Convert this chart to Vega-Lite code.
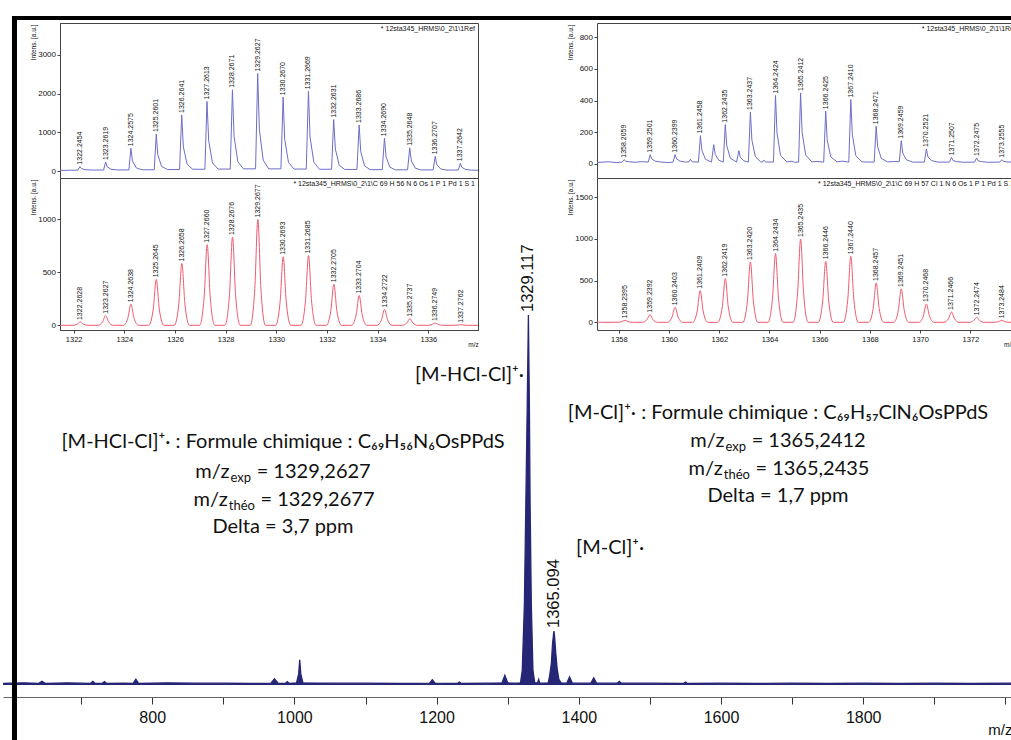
{
  "$schema": "https://vega.github.io/schema/vega-lite/v6.json",
  "background": "white",
  "padding": {"top": 13, "left": 0, "right": 0, "bottom": 0},
  "bounds": "flush",
  "spacing": 307,
  "config": {
    "view": {"stroke": null},
    "axis": {"grid": false, "labelFont": "Liberation Sans", "titleFont": "Liberation Sans", "domainColor": "#444", "tickColor": "#444", "labelColor": "#111", "titleColor": "#111", "titleFontWeight": "normal"},
    "title": {"font": "Liberation Sans", "fontWeight": "normal"}
  },
  "datasets": {
    "lt": [
      {"m":1321.46,"v":15},{"m":1321.9,"v":20},
      {"m":1322.17,"v":22},{"m":1322.245,"v":113},{"m":1322.31,"v":60},{"m":1322.45,"v":35},{"m":1322.7,"v":25},
      {"m":1323.18,"v":25},{"m":1323.262,"v":235},{"m":1323.32,"v":110},{"m":1323.47,"v":45},{"m":1323.7,"v":28},
      {"m":1324.18,"v":28},{"m":1324.258,"v":590},{"m":1324.32,"v":260},{"m":1324.47,"v":80},{"m":1324.7,"v":32},
      {"m":1325.18,"v":32},{"m":1325.26,"v":957},{"m":1325.32,"v":420},{"m":1325.47,"v":120},{"m":1325.7,"v":38},
      {"m":1326.18,"v":38},{"m":1326.264,"v":1450},{"m":1326.33,"v":620},{"m":1326.48,"v":170},{"m":1326.7,"v":45},
      {"m":1327.18,"v":45},{"m":1327.261,"v":1800},{"m":1327.33,"v":780},{"m":1327.48,"v":210},{"m":1327.7,"v":50},
      {"m":1328.18,"v":50},{"m":1328.267,"v":2100},{"m":1328.33,"v":900},{"m":1328.48,"v":240},{"m":1328.7,"v":55},
      {"m":1329.18,"v":55},{"m":1329.263,"v":2520},{"m":1329.33,"v":1080},{"m":1329.48,"v":280},{"m":1329.7,"v":55},
      {"m":1330.18,"v":55},{"m":1330.267,"v":1910},{"m":1330.33,"v":820},{"m":1330.48,"v":220},{"m":1330.7,"v":50},
      {"m":1331.18,"v":50},{"m":1331.267,"v":2060},{"m":1331.33,"v":880},{"m":1331.48,"v":230},{"m":1331.7,"v":45},
      {"m":1332.18,"v":45},{"m":1332.263,"v":1330},{"m":1332.33,"v":570},{"m":1332.48,"v":150},{"m":1332.7,"v":40},
      {"m":1333.18,"v":40},{"m":1333.269,"v":1190},{"m":1333.33,"v":510},{"m":1333.48,"v":135},{"m":1333.7,"v":35},
      {"m":1334.18,"v":35},{"m":1334.269,"v":850},{"m":1334.33,"v":370},{"m":1334.48,"v":100},{"m":1334.7,"v":30},
      {"m":1335.18,"v":30},{"m":1335.265,"v":600},{"m":1335.33,"v":260},{"m":1335.48,"v":75},{"m":1335.7,"v":28},
      {"m":1336.19,"v":28},{"m":1336.271,"v":380},{"m":1336.33,"v":170},{"m":1336.48,"v":55},{"m":1336.7,"v":25},
      {"m":1337.18,"v":25},{"m":1337.264,"v":200},{"m":1337.32,"v":95},{"m":1337.47,"v":40},{"m":1337.7,"v":22},
      {"m":1337.96,"v":20}
    ],
    "ltp": [
      {"m":1322.2454,"v":113},{"m":1323.2619,"v":235},{"m":1324.2575,"v":590},{"m":1325.2601,"v":957},
      {"m":1326.2641,"v":1450},{"m":1327.2613,"v":1800},{"m":1328.2671,"v":2100},{"m":1329.2627,"v":2520},
      {"m":1330.2670,"v":1910},{"m":1331.2669,"v":2060},{"m":1332.2631,"v":1330},{"m":1333.2686,"v":1190},
      {"m":1334.2690,"v":850},{"m":1335.2648,"v":600},{"m":1336.2707,"v":380},{"m":1337.2642,"v":200}
    ],
    "lb": [
      {"m":1321.46,"v":0},
      {"m":1321.96,"v":0},{"m":1322.14,"v":11},{"m":1322.26,"v":31},{"m":1322.38,"v":11},{"m":1322.56,"v":0},
      {"m":1322.96,"v":0},{"m":1323.14,"v":32},{"m":1323.26,"v":91},{"m":1323.38,"v":32},{"m":1323.56,"v":0},
      {"m":1323.96,"v":0},{"m":1324.14,"v":70},{"m":1324.26,"v":200},{"m":1324.38,"v":70},{"m":1324.56,"v":0},
      {"m":1324.96,"v":0},{"m":1325.14,"v":152},{"m":1325.26,"v":434},{"m":1325.38,"v":152},{"m":1325.56,"v":0},
      {"m":1325.97,"v":0},{"m":1326.15,"v":204},{"m":1326.27,"v":584},{"m":1326.39,"v":204},{"m":1326.57,"v":0},
      {"m":1326.97,"v":0},{"m":1327.15,"v":267},{"m":1327.27,"v":762},{"m":1327.39,"v":267},{"m":1327.57,"v":0},
      {"m":1327.97,"v":0},{"m":1328.15,"v":292},{"m":1328.27,"v":834},{"m":1328.39,"v":292},{"m":1328.57,"v":0},
      {"m":1328.97,"v":0},{"m":1329.15,"v":350},{"m":1329.27,"v":1000},{"m":1329.39,"v":350},{"m":1329.57,"v":0},
      {"m":1329.97,"v":0},{"m":1330.15,"v":226},{"m":1330.27,"v":647},{"m":1330.39,"v":226},{"m":1330.57,"v":0},
      {"m":1330.97,"v":0},{"m":1331.15,"v":231},{"m":1331.27,"v":659},{"m":1331.39,"v":231},{"m":1331.57,"v":0},
      {"m":1331.97,"v":0},{"m":1332.15,"v":136},{"m":1332.27,"v":388},{"m":1332.39,"v":136},{"m":1332.57,"v":0},
      {"m":1332.97,"v":0},{"m":1333.15,"v":98},{"m":1333.27,"v":281},{"m":1333.39,"v":98},{"m":1333.57,"v":0},
      {"m":1333.97,"v":0},{"m":1334.15,"v":52},{"m":1334.27,"v":150},{"m":1334.39,"v":52},{"m":1334.57,"v":0},
      {"m":1334.97,"v":0},{"m":1335.15,"v":22},{"m":1335.27,"v":62},{"m":1335.39,"v":22},{"m":1335.57,"v":0},
      {"m":1335.97,"v":0},{"m":1336.15,"v":8},{"m":1336.27,"v":22},{"m":1336.39,"v":8},{"m":1336.57,"v":0},
      {"m":1336.98,"v":0},{"m":1337.16,"v":2},{"m":1337.28,"v":6},{"m":1337.40,"v":2},{"m":1337.58,"v":0},
      {"m":1337.96,"v":0}
    ],
    "lbp": [
      {"m":1322.2628,"v":31},{"m":1323.2627,"v":91},{"m":1324.2638,"v":200},{"m":1325.2645,"v":434},
      {"m":1326.2658,"v":584},{"m":1327.2660,"v":762},{"m":1328.2676,"v":834},{"m":1329.2677,"v":1000},
      {"m":1330.2693,"v":647},{"m":1331.2685,"v":659},{"m":1332.2705,"v":388},{"m":1333.2704,"v":281},
      {"m":1334.2722,"v":150},{"m":1335.2737,"v":62},{"m":1336.2749,"v":22},{"m":1337.2762,"v":6}
    ],
    "rt": [
      {"m":1357.13,"v":10},{"m":1357.6,"v":14},{"m":1357.9,"v":9},
      {"m":1358.13,"v":12},{"m":1358.21,"v":27},{"m":1358.27,"v":18},{"m":1358.41,"v":14},{"m":1358.66,"v":11},
      {"m":1358.9,"v":15},
      {"m":1359.17,"v":12},{"m":1359.25,"v":59},{"m":1359.31,"v":32},{"m":1359.45,"v":18},{"m":1359.7,"v":12},
      {"m":1359.95,"v":9},
      {"m":1360.16,"v":12},{"m":1360.24,"v":59},{"m":1360.30,"v":32},{"m":1360.44,"v":18},{"m":1360.65,"v":12},
      {"m":1360.8,"v":14},{"m":1360.85,"v":30},{"m":1360.92,"v":14},
      {"m":1361.17,"v":12},{"m":1361.25,"v":179},{"m":1361.31,"v":85},{"m":1361.45,"v":30},{"m":1361.69,"v":12},
      {"m":1361.78,"v":122},{"m":1361.84,"v":60},{"m":1361.98,"v":24},{"m":1362.16,"v":12},
      {"m":1362.24,"v":248},{"m":1362.30,"v":115},{"m":1362.44,"v":37},{"m":1362.69,"v":12},
      {"m":1362.78,"v":84},{"m":1362.84,"v":42},{"m":1362.98,"v":20},{"m":1363.16,"v":12},
      {"m":1363.24,"v":328},{"m":1363.30,"v":150},{"m":1363.44,"v":45},{"m":1363.65,"v":14},
      {"m":1363.72,"v":12},{"m":1363.77,"v":25},{"m":1363.84,"v":13},{"m":1364.16,"v":12},
      {"m":1364.24,"v":432},{"m":1364.30,"v":195},{"m":1364.44,"v":55},{"m":1364.69,"v":13},
      {"m":1364.9,"v":18},{"m":1365.0,"v":11},{"m":1365.16,"v":12},
      {"m":1365.24,"v":448},{"m":1365.30,"v":200},{"m":1365.44,"v":57},{"m":1365.69,"v":13},
      {"m":1365.9,"v":16},{"m":1366.16,"v":12},
      {"m":1366.24,"v":333},{"m":1366.30,"v":150},{"m":1366.44,"v":45},{"m":1366.69,"v":14},
      {"m":1366.9,"v":18},{"m":1367.16,"v":12},
      {"m":1367.24,"v":406},{"m":1367.30,"v":185},{"m":1367.44,"v":52},{"m":1367.69,"v":13},
      {"m":1368.17,"v":12},
      {"m":1368.25,"v":238},{"m":1368.31,"v":108},{"m":1368.45,"v":36},{"m":1368.7,"v":13},
      {"m":1368.95,"v":16},{"m":1369.17,"v":14},
      {"m":1369.25,"v":147},{"m":1369.31,"v":68},{"m":1369.45,"v":27},{"m":1369.7,"v":12},
      {"m":1370.17,"v":12},
      {"m":1370.25,"v":95},{"m":1370.31,"v":45},{"m":1370.45,"v":22},{"m":1370.7,"v":12},
      {"m":1371.17,"v":12},
      {"m":1371.25,"v":42},{"m":1371.31,"v":22},{"m":1371.45,"v":15},{"m":1371.7,"v":11},
      {"m":1372.17,"v":12},
      {"m":1372.25,"v":38},{"m":1372.31,"v":20},{"m":1372.45,"v":15},{"m":1372.7,"v":11},
      {"m":1373.17,"v":12},
      {"m":1373.26,"v":27},{"m":1373.32,"v":17},{"m":1373.46,"v":13},{"m":1373.74,"v":12}
    ],
    "rtp": [
      {"m":1358.2059,"v":27},{"m":1359.2501,"v":59},{"m":1360.2399,"v":59},{"m":1361.2458,"v":179},
      {"m":1362.2435,"v":248},{"m":1363.2437,"v":328},{"m":1364.2424,"v":432},{"m":1365.2412,"v":448},
      {"m":1366.2425,"v":333},{"m":1367.2410,"v":406},{"m":1368.2471,"v":238},{"m":1369.2459,"v":147},
      {"m":1370.2521,"v":95},{"m":1371.2507,"v":42},{"m":1372.2475,"v":38},{"m":1373.2555,"v":27}
    ],
    "rb": [
      {"m":1357.13,"v":10},{"m":1357.25,"v":0},
      {"m":1357.94,"v":0},{"m":1358.12,"v":8},{"m":1358.24,"v":24},{"m":1358.36,"v":8},{"m":1358.54,"v":0},
      {"m":1358.94,"v":0},{"m":1359.12,"v":32},{"m":1359.24,"v":92},{"m":1359.36,"v":32},{"m":1359.54,"v":0},
      {"m":1359.94,"v":0},{"m":1360.12,"v":63},{"m":1360.24,"v":180},{"m":1360.36,"v":63},{"m":1360.54,"v":0},
      {"m":1360.94,"v":0},{"m":1361.12,"v":133},{"m":1361.24,"v":380},{"m":1361.36,"v":133},{"m":1361.54,"v":0},
      {"m":1361.94,"v":0},{"m":1362.12,"v":183},{"m":1362.24,"v":524},{"m":1362.36,"v":183},{"m":1362.54,"v":0},
      {"m":1362.94,"v":0},{"m":1363.12,"v":253},{"m":1363.24,"v":724},{"m":1363.36,"v":253},{"m":1363.54,"v":0},
      {"m":1363.94,"v":0},{"m":1364.12,"v":288},{"m":1364.24,"v":824},{"m":1364.36,"v":288},{"m":1364.54,"v":0},
      {"m":1364.94,"v":0},{"m":1365.12,"v":350},{"m":1365.24,"v":1000},{"m":1365.36,"v":350},{"m":1365.54,"v":0},
      {"m":1365.94,"v":0},{"m":1366.12,"v":256},{"m":1366.24,"v":732},{"m":1366.36,"v":256},{"m":1366.54,"v":0},
      {"m":1366.94,"v":0},{"m":1367.12,"v":277},{"m":1367.24,"v":792},{"m":1367.36,"v":277},{"m":1367.54,"v":0},
      {"m":1367.95,"v":0},{"m":1368.13,"v":165},{"m":1368.25,"v":472},{"m":1368.37,"v":165},{"m":1368.55,"v":0},
      {"m":1368.95,"v":0},{"m":1369.13,"v":140},{"m":1369.25,"v":400},{"m":1369.37,"v":140},{"m":1369.55,"v":0},
      {"m":1369.95,"v":0},{"m":1370.13,"v":77},{"m":1370.25,"v":220},{"m":1370.37,"v":77},{"m":1370.55,"v":0},
      {"m":1370.95,"v":0},{"m":1371.13,"v":43},{"m":1371.25,"v":124},{"m":1371.37,"v":43},{"m":1371.55,"v":0},
      {"m":1371.95,"v":0},{"m":1372.13,"v":21},{"m":1372.25,"v":60},{"m":1372.37,"v":21},{"m":1372.55,"v":0},
      {"m":1372.95,"v":0},{"m":1373.13,"v":8},{"m":1373.25,"v":24},{"m":1373.37,"v":8},{"m":1373.55,"v":0},
      {"m":1373.74,"v":0}
    ],
    "rbp": [
      {"m":1358.2395,"v":24},{"m":1359.2392,"v":92},{"m":1360.2403,"v":180},{"m":1361.2409,"v":380},
      {"m":1362.2419,"v":524},{"m":1363.2420,"v":724},{"m":1364.2434,"v":824},{"m":1365.2435,"v":1000},
      {"m":1366.2446,"v":732},{"m":1367.2440,"v":792},{"m":1368.2457,"v":472},{"m":1369.2451,"v":400},
      {"m":1370.2468,"v":220},{"m":1371.2466,"v":124},{"m":1372.2474,"v":60},{"m":1373.2484,"v":24}
    ],
    "ms": [
      {"m":590.15,"v":0.4},{"m":600,"v":0.5},{"m":620,"v":0.6},{"m":640,"v":0.4},{"m":645,"v":1.0},{"m":650,"v":0.4},
      {"m":680,"v":0.6},{"m":700,"v":0.5},{"m":713,"v":0.4},{"m":716.5,"v":1.0},{"m":720,"v":0.4},{"m":730,"v":0.5},
      {"m":733,"v":0.9},{"m":736,"v":0.4},{"m":760,"v":0.5},{"m":773,"v":0.4},{"m":777,"v":1.6},{"m":781,"v":0.4},
      {"m":820,"v":0.6},{"m":860,"v":0.5},{"m":900,"v":0.5},{"m":940,"v":0.4},{"m":967,"v":0.5},{"m":972,"v":1.7},
      {"m":977,"v":0.5},{"m":987,"v":0.4},{"m":990,"v":0.9},{"m":993,"v":0.4},{"m":1003,"v":0.6},{"m":1006,"v":3},
      {"m":1007.5,"v":6.8},{"m":1009,"v":3},{"m":1012,"v":0.6},{"m":1060,"v":0.5},{"m":1100,"v":0.5},{"m":1150,"v":0.4},
      {"m":1190,"v":0.5},{"m":1194,"v":1.4},{"m":1198,"v":0.5},{"m":1229,"v":0.4},{"m":1232,"v":0.8},{"m":1235,"v":0.4},
      {"m":1270,"v":0.5},{"m":1292,"v":0.6},{"m":1296,"v":2.6},{"m":1300,"v":0.6},{"m":1310,"v":0.5},{"m":1318,"v":0.6},
      {"m":1320.5,"v":4},{"m":1323.5,"v":22},{"m":1325.5,"v":49},{"m":1327.5,"v":76},{"m":1329.117,"v":100},
      {"m":1330.5,"v":76},{"m":1331.5,"v":49},{"m":1333.2,"v":22},{"m":1335.5,"v":4},{"m":1338,"v":0.6},
      {"m":1342,"v":0.6},{"m":1343.6,"v":1.5},{"m":1345,"v":0.5},{"m":1357,"v":0.6},{"m":1359,"v":2.5},
      {"m":1361.5,"v":6},{"m":1363,"v":11},{"m":1364.3,"v":13.5},{"m":1365.094,"v":14.6},{"m":1366,"v":13},
      {"m":1367.5,"v":9},{"m":1369.5,"v":4.5},{"m":1372,"v":1.5},{"m":1375,"v":0.6},{"m":1383,"v":0.5},
      {"m":1387,"v":2.2},{"m":1391,"v":0.5},{"m":1417,"v":0.5},{"m":1421,"v":1.9},{"m":1425,"v":0.5},
      {"m":1454,"v":0.5},{"m":1457,"v":1.0},{"m":1460,"v":0.5},{"m":1500,"v":0.5},{"m":1547,"v":0.4},
      {"m":1550,"v":0.8},{"m":1553,"v":0.4},{"m":1600,"v":0.5},{"m":1650,"v":0.4},{"m":1700,"v":0.5},
      {"m":1750,"v":0.4},{"m":1800,"v":0.5},{"m":1850,"v":0.4},{"m":1900,"v":0.5},{"m":1950,"v":0.4},
      {"m":2012.1,"v":0.5}
    ],
    "mpk": [
      {"m":1329.117,"v":100},{"m":1365.094,"v":14.6}
    ],
    "frame": [
      {"m":606.3,"v":180.81,"m2":606.3,"v2":-15.67,"w":5},
      {"m":603,"v":180.27,"m2":2012.1,"v2":180.27,"w":4}
    ],
    "ann": [
      {"p":"c","t":"[M-HCl-Cl]⁺· : Formule chimique : C₆₉H₅₆N₆OsPPdS","m":983.97,"v":65.68},
      {"p":"c","t":"Delta = 3,7 ppm","m":983.97,"v":42.6},
      {"p":"c","t":"[M-Cl]⁺· : Formule chimique : C₆₉H₅₇ClN₆OsPPdS","m":1680.17,"v":73.51},
      {"p":"c","t":"Delta = 1,7 ppm","m":1680.17,"v":51.0},
      {"p":"r","t":"m/z","m":908.72,"v":57.57},
      {"p":"r","t":"m/z","m":906.26,"v":50.0},
      {"p":"r","t":"m/z","m":1604.92,"v":65.95},
      {"p":"r","t":"m/z","m":1602.46,"v":58.38},
      {"p":"r","t":"[M-HCl-Cl]⁺·","m":1322.9,"v":83.8},
      {"p":"s","t":"exp","m":908.72,"v":57.57},
      {"p":"s","t":"théo","m":906.26,"v":50.0},
      {"p":"s","t":"exp","m":1604.92,"v":65.95},
      {"p":"s","t":"théo","m":1602.46,"v":58.38},
      {"p":"l","t":"= 1329,2627","m":946.9,"v":57.57},
      {"p":"l","t":"= 1329,2677","m":952.2,"v":50.0},
      {"p":"l","t":"= 1365,2412","m":1643.1,"v":65.95},
      {"p":"l","t":"= 1365,2435","m":1648.4,"v":58.38},
      {"p":"l","t":"[M-Cl]⁺·","m":1396.1,"v":37.0}
    ]
  },
  "vconcat": [
    {
      "columns": 4,
      "spacing": 0,
      "bounds": "flush",
      "align": "each",
      "concat": [
        {"width": 57, "height": 1, "data": {"values": [{}]}, "mark": {"type": "text", "text": ""}},
        {
          "width": 418, "height": 155,
          "view": {"stroke": "#444", "strokeWidth": 1},
          "title": {"text": "* 12sta345_HRMS\\0_2\\1\\1Ref", "anchor": "end", "frame": "group", "orient": "top", "baseline": "top", "offset": -9, "dx": -3, "fontSize": 7, "color": "#111"},
          "layer": [
            {
              "data": {"name": "lt"},
              "mark": {"type": "line", "color": "#6d6dc8", "strokeWidth": 1},
              "encoding": {
                "x": {"field": "m", "type": "quantitative", "scale": {"domain": [1321.46, 1337.96], "nice": false, "zero": false}, "axis": null},
                "y": {"field": "v", "type": "quantitative", "scale": {"domain": [-181, 3827], "nice": false, "zero": false},
                  "axis": {"values": [0, 1000, 2000, 3000], "format": "d", "title": "Intens. [a.u.]", "titleFontSize": 6.5, "titleAngle": 270, "titleAlign": "right", "titleBaseline": "middle", "titleX": -27, "titleY": 1, "labelFontSize": 8, "labelPadding": 1.5, "tickSize": 3}}
              }
            },
            {
              "data": {"name": "ltp"},
              "mark": {"type": "text", "angle": 270, "align": "left", "baseline": "middle", "dx": 2, "fontSize": 7, "font": "Liberation Sans", "color": "#111"},
              "encoding": {
                "x": {"field": "m", "type": "quantitative"},
                "y": {"field": "v", "type": "quantitative"},
                "text": {"field": "m", "type": "quantitative", "format": ".4f"}
              }
            }
          ]
        },
        {"width": 119, "height": 1, "data": {"values": [{}]}, "mark": {"type": "text", "text": ""}},
        {
          "width": 417, "height": 155,
          "title": {"text": "* 12sta345_HRMS\\0_2\\1\\1Re", "anchor": "end", "frame": "group", "orient": "top", "baseline": "top", "offset": -9, "dx": 0, "fontSize": 7, "color": "#111"},
          "resolve": {"axis": {"x": "independent", "y": "independent"}},
          "layer": [
            {
              "data": {"name": "rt"},
              "mark": {"type": "line", "color": "#6d6dc8", "strokeWidth": 1},
              "encoding": {
                "x": {"field": "m", "type": "quantitative", "scale": {"domain": [1357.13, 1373.74], "nice": false, "zero": false}, "axis": {"orient": "bottom", "ticks": false, "labels": false, "title": null}},
                "y": {"field": "v", "type": "quantitative", "scale": {"domain": [-88.2, 888.2], "nice": false, "zero": false},
                  "axis": {"values": [0, 200, 400, 600, 800], "format": "d", "title": "Intens. [a.u.]", "titleFontSize": 6.5, "titleAngle": 270, "titleAlign": "right", "titleBaseline": "middle", "titleX": -27, "titleY": 1, "labelFontSize": 8, "labelPadding": 1.5, "tickSize": 3}}
              }
            },
            {
              "data": {"name": "rtp"},
              "mark": {"type": "text", "angle": 270, "align": "left", "baseline": "middle", "dx": 2, "fontSize": 7, "font": "Liberation Sans", "color": "#111"},
              "encoding": {
                "x": {"field": "m", "type": "quantitative", "scale": {"domain": [1357.13, 1373.74], "nice": false, "zero": false}, "axis": {"orient": "top", "ticks": false, "labels": false, "title": null}},
                "y": {"field": "v", "type": "quantitative", "scale": {"domain": [-88.2, 888.2], "nice": false, "zero": false}, "axis": null},
                "text": {"field": "m", "type": "quantitative", "format": ".4f"}
              }
            }
          ]
        },
        {"width": 57, "height": 1, "data": {"values": [{}]}, "mark": {"type": "text", "text": ""}},
        {
          "width": 418, "height": 152,
          "view": {"stroke": "#444", "strokeWidth": 1},
          "title": {"text": "* 12sta345_HRMS\\0_2\\1\\C 69 H 56 N 6 Os 1 P 1 Pd 1 S 1", "anchor": "end", "frame": "group", "orient": "top", "baseline": "top", "offset": -9, "dx": -3, "fontSize": 7, "color": "#111"},
          "layer": [
            {
              "data": {"name": "lb"},
              "mark": {"type": "line", "color": "#ee5a70", "strokeWidth": 1, "interpolate": "monotone"},
              "encoding": {
                "x": {"field": "m", "type": "quantitative", "scale": {"domain": [1321.46, 1337.96], "nice": false, "zero": false},
                  "axis": {"values": [1322,1323,1324,1325,1326,1327,1328,1329,1330,1331,1332,1333,1334,1335,1336,1337], "format": "d", "labelExpr": "datum.value % 2 == 0 ? datum.label : ''", "labelFontSize": 7.5, "tickSize": 3, "labelPadding": 2, "title": "m/z", "titleFontSize": 6.5, "titleX": 413, "titleY": 11, "titleAlign": "center", "titleBaseline": "top"}},
                "y": {"field": "v", "type": "quantitative", "scale": {"domain": [-44.4, 1391.7], "nice": false, "zero": false},
                  "axis": {"values": [0, 250, 500, 750, 1000, 1250], "format": "d", "title": "Intens. [a.u.]", "titleFontSize": 6.5, "titleAngle": 270, "titleAlign": "right", "titleBaseline": "middle", "titleX": -27, "titleY": 1, "labelFontSize": 8, "labelPadding": 1.5, "tickSize": 3}}
              }
            },
            {
              "data": {"name": "lbp"},
              "mark": {"type": "text", "angle": 270, "align": "left", "baseline": "middle", "dx": 2, "fontSize": 7, "font": "Liberation Sans", "color": "#111"},
              "encoding": {
                "x": {"field": "m", "type": "quantitative"},
                "y": {"field": "v", "type": "quantitative"},
                "text": {"field": "m", "type": "quantitative", "format": ".4f"}
              }
            }
          ]
        },
        {"width": 119, "height": 1, "data": {"values": [{}]}, "mark": {"type": "text", "text": ""}},
        {
          "width": 417, "height": 152,
          "title": {"text": "* 12sta345_HRMS\\0_2\\1\\C 69 H 57 Cl 1 N 6 Os 1 P 1 Pd 1 S 1", "anchor": "end", "frame": "group", "orient": "top", "baseline": "top", "offset": -9, "dx": 0, "fontSize": 7, "color": "#111"},
          "layer": [
            {
              "data": {"name": "rb"},
              "mark": {"type": "line", "color": "#ee5a70", "strokeWidth": 1, "interpolate": "monotone"},
              "encoding": {
                "x": {"field": "m", "type": "quantitative", "scale": {"domain": [1357.13, 1373.74], "nice": false, "zero": false},
                  "axis": {"values": [1358,1359,1360,1361,1362,1363,1364,1365,1366,1367,1368,1369,1370,1371,1372,1373], "format": "d", "labelExpr": "datum.value % 2 == 0 ? datum.label : ''", "labelFontSize": 7.5, "tickSize": 3, "labelPadding": 2, "title": "m/z", "titleFontSize": 6.5, "titleX": 417, "titleY": 11, "titleAlign": "right", "titleBaseline": "top"}},
                "y": {"field": "v", "type": "quantitative", "scale": {"domain": [-92.4, 1731.6], "nice": false, "zero": false},
                  "axis": {"values": [0, 500, 1000, 1500], "format": "d", "title": "Intens. [a.u.]", "titleFontSize": 6.5, "titleAngle": 270, "titleAlign": "right", "titleBaseline": "middle", "titleX": -27, "titleY": 1, "labelFontSize": 8, "labelPadding": 1.5, "tickSize": 3}}
              }
            },
            {
              "data": {"name": "rbp"},
              "mark": {"type": "text", "angle": 270, "align": "left", "baseline": "middle", "dx": 2, "fontSize": 7, "font": "Liberation Sans", "color": "#111"},
              "encoding": {
                "x": {"field": "m", "type": "quantitative"},
                "y": {"field": "v", "type": "quantitative"},
                "text": {"field": "m", "type": "quantitative", "format": ".4f"}
              }
            }
          ]
        }
      ]
    },
    {
      "width": 1011, "height": 367,
      "encoding": {
        "x": {"field": "m", "type": "quantitative", "scale": {"domain": [590.15, 2012.1], "nice": false, "zero": false},
          "axis": {"values": [700,800,900,1000,1100,1200,1300,1400,1500,1600,1700,1800,1900,2000], "format": "d", "labelExpr": "datum.value % 200 == 0 && datum.value <= 1800 ? datum.label : ''", "labelFontSize": 16, "labelPadding": 5, "tickSize": 7, "tickColor": "#333", "domainColor": "#666", "title": "m/z", "titleFontSize": 15, "titleX": 1009, "titleY": 37, "titleAlign": "right", "titleBaseline": "alphabetic"}},
        "y": {"field": "v", "type": "quantitative", "scale": {"domain": [-3.243, 95.95], "nice": false, "zero": false}, "axis": null}
      },
      "layer": [
        {"data": {"name": "ms"}, "mark": {"type": "area", "color": "#262676"}, "encoding": {"y2": {"datum": 0}}},
        {"data": {"name": "ms"}, "mark": {"type": "line", "color": "#262676", "strokeWidth": 1.3}},
        {
          "data": {"name": "mpk"},
          "mark": {"type": "text", "angle": 270, "align": "left", "baseline": "middle", "dx": 3, "fontSize": 16.5, "font": "Liberation Sans", "color": "#111"},
          "encoding": {"text": {"field": "m", "type": "quantitative", "format": ".3f"}}
        },
        {
          "data": {"name": "ann"}, "transform": [{"filter": "datum.p == 'c'"}],
          "mark": {"type": "text", "align": "center", "baseline": "middle", "font": "Lato", "fontSize": 20, "color": "#111"},
          "encoding": {"text": {"field": "t"}}
        },
        {
          "data": {"name": "ann"}, "transform": [{"filter": "datum.p == 'r'"}],
          "mark": {"type": "text", "align": "right", "baseline": "middle", "font": "Lato", "fontSize": 20, "color": "#111"},
          "encoding": {"text": {"field": "t"}}
        },
        {
          "data": {"name": "ann"}, "transform": [{"filter": "datum.p == 'l'"}],
          "mark": {"type": "text", "align": "left", "baseline": "middle", "font": "Lato", "fontSize": 20, "color": "#111"},
          "encoding": {"text": {"field": "t"}}
        },
        {
          "data": {"name": "ann"}, "transform": [{"filter": "datum.p == 's'"}],
          "mark": {"type": "text", "align": "left", "baseline": "middle", "dy": 6, "dx": 1, "font": "Lato", "fontSize": 13, "color": "#111"},
          "encoding": {"text": {"field": "t"}}
        },
        {
          "data": {"name": "frame"}, "transform": [{"filter": "datum.w == 5"}],
          "mark": {"type": "rule", "color": "#000", "strokeWidth": 5},
          "encoding": {"x2": {"field": "m2"}, "y2": {"field": "v2"}}
        },
        {
          "data": {"name": "frame"}, "transform": [{"filter": "datum.w == 4"}],
          "mark": {"type": "rule", "color": "#000", "strokeWidth": 4},
          "encoding": {"x2": {"field": "m2"}, "y2": {"field": "v2"}}
        }
      ]
    }
  ]
}
